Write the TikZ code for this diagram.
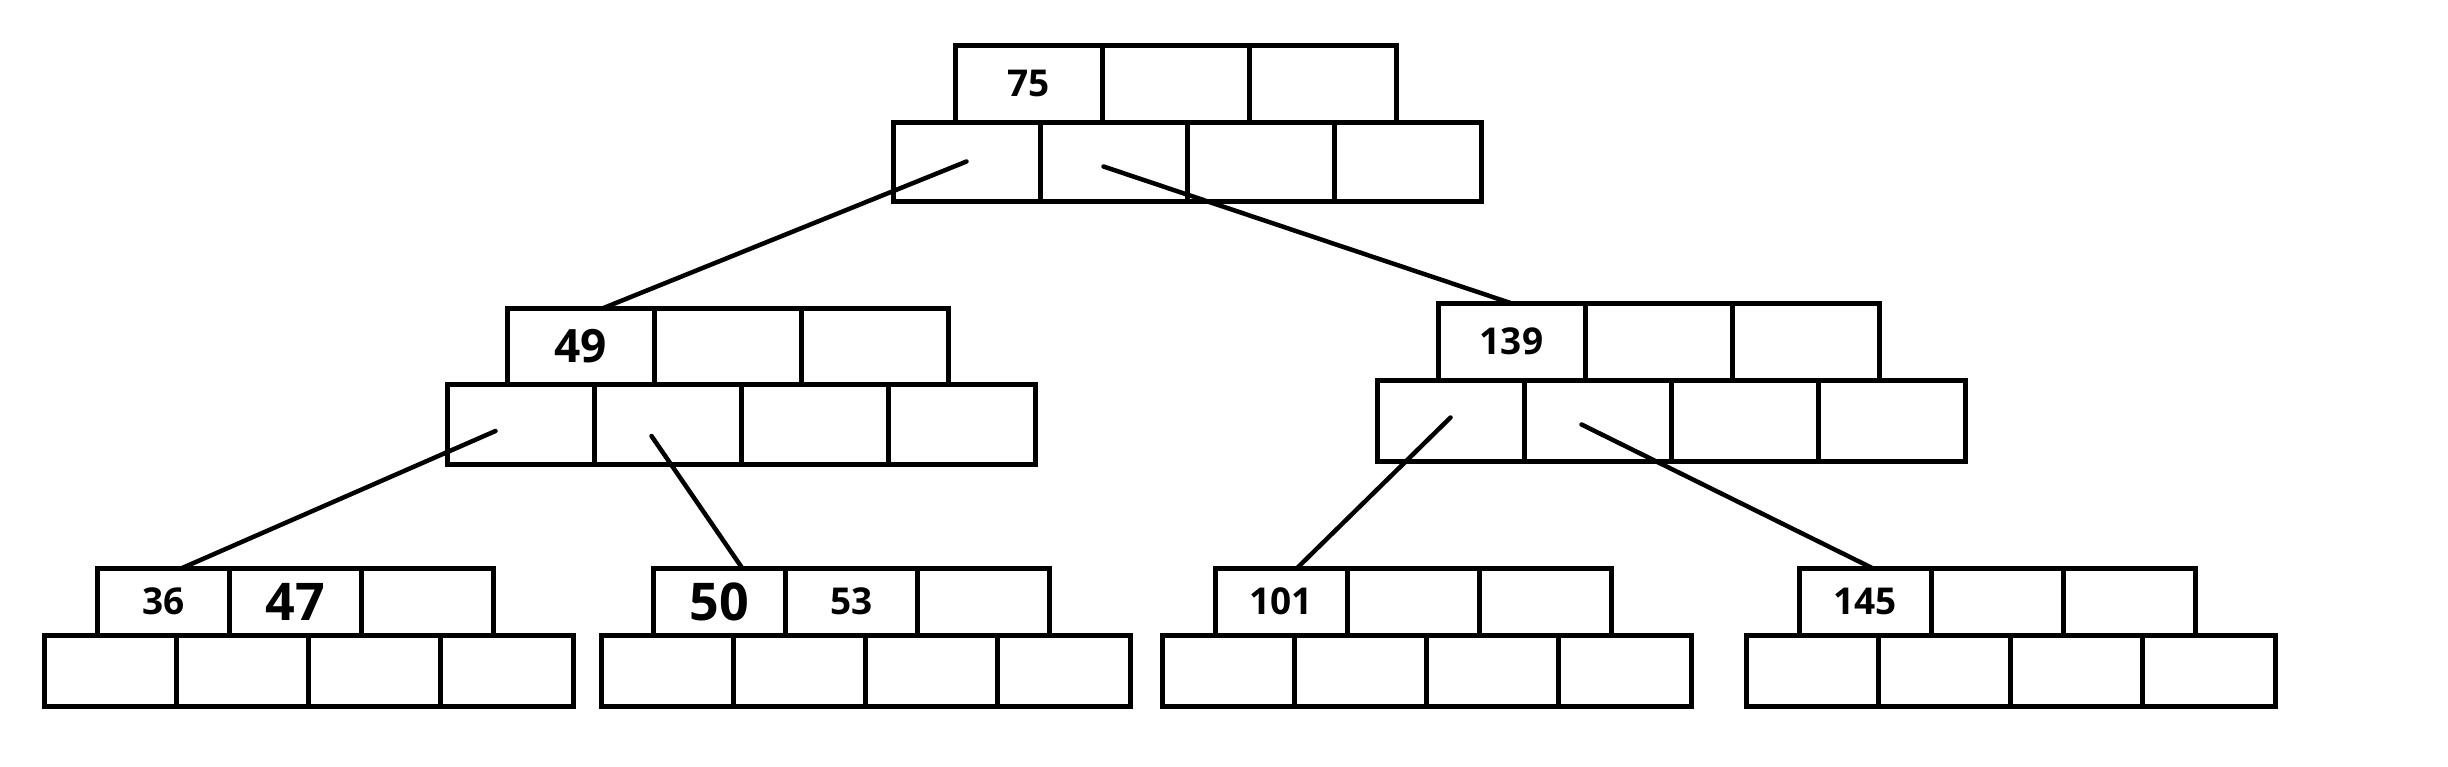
\documentclass[tikz,border=0pt]{standalone}
\usepackage{fontspec}
\setmainfont{Open Sans}
\tikzset{
  cellbox/.style={draw, line width=5pt, inner sep=0pt, outer sep=0pt, anchor=north west,
    font=\bfseries\fontsize{37}{40}\selectfont},
  link/.style={line width=4.5pt, line cap=round},
}
% #1 name, #2 bottom-row x0, #3 top-row x0, #4 y top, #5 y split, #6 y bottom, #7 cell width, #8 labels
\newcommand\mkbnode[8]{%
  \foreach \t [count=\i] in {#8} {%
    \node[cellbox, minimum width=#7pt, minimum height={(#5-#4)*1pt}] (#1t\i) at ({#3+(\i-1)*#7}, #4) {\t};
  }
  \foreach \i in {1,...,4} {%
    \node[cellbox, minimum width=#7pt, minimum height={(#6-#5)*1pt}] (#1b\i) at ({#2+(\i-1)*#7}, #5) {};
  }
}
\begin{document}
\begin{tikzpicture}[x=1pt, y=-1pt]
\useasboundingbox[fill=white] (0,0) rectangle (2448,766);
\mkbnode{R}{893}{955}{45}{122}{201}{147}{75,{},{}}
\mkbnode{L}{447}{507}{308}{384}{464}{147}{{\fontsize{46}{48}\selectfont 49},{},{}}
\mkbnode{M}{1377}{1438}{303}{380}{461}{147}{139,{},{}}
\mkbnode{A}{44}{97}{568}{635}{706}{132.3}{36,{\fontsize{52}{54}\selectfont 47},{}}
\mkbnode{B}{601}{653}{568}{635}{706}{132.3}{{\fontsize{52}{54}\selectfont 50},53,{}}
\mkbnode{C}{1162}{1215}{568}{635}{706}{132.3}{101,{},{}}
\mkbnode{D}{1746}{1799}{568}{635}{706}{132.3}{145,{},{}}
\draw[link] (Rb1.center) -- ([xshift=23pt]Lt1.north);
\draw[link] ([xshift=-10pt,yshift=-5pt]Rb2.center) -- ([xshift=-1pt]Mt1.north);
\draw[link] ([xshift=-25pt,yshift=-7pt]Lb1.center) -- ([xshift=19pt]At1.north);
\draw[link] ([xshift=-16pt,yshift=-12pt]Lb2.center) -- ([xshift=23pt]Bt1.north);
\draw[link] ([yshift=3pt]Mb1.center) -- ([xshift=16pt]Ct1.north);
\draw[link] ([xshift=-16pt,yshift=-4pt]Mb2.center) -- ([xshift=7pt]Dt1.north);
\end{tikzpicture}
\end{document}
